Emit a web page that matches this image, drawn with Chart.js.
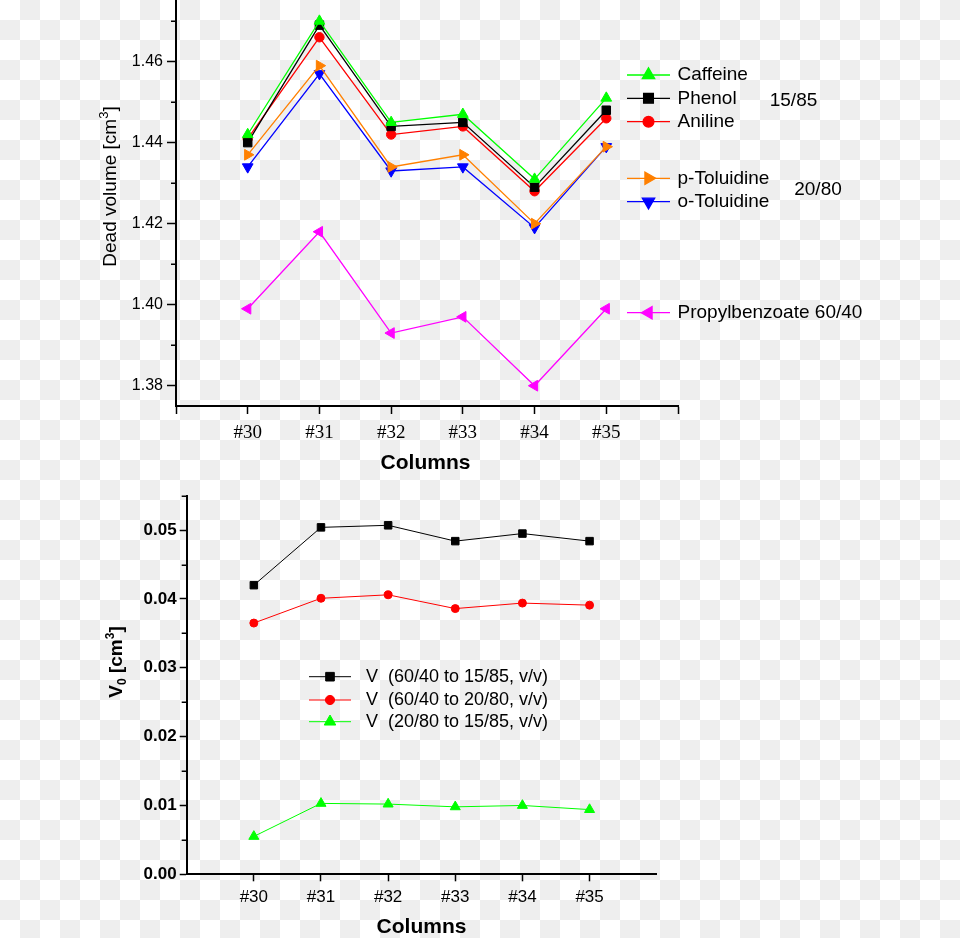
<!DOCTYPE html>
<html>
<head>
<meta charset="utf-8">
<title>Dead volume of columns</title>
<script src="https://cdn.jsdelivr.net/npm/chart.js@4.4.0/dist/chart.umd.min.js"></script>
<style>
  html, body { margin: 0; width: 960px; height: 938px; overflow: hidden; }
  html {
    background-color: #fff;
    background-image: conic-gradient(#eee 25%, #fff 0 50%, #eee 0 75%, #fff 0);
    background-size: 40px 40px;
  }
  body { position: relative; }
  canvas { position: absolute; left: 0; }
  #deadVolume { top: 0; width: 960px; height: 480px; }
  #v0Chart { top: 470px; width: 960px; height: 468px; }
</style>
</head>
<body>
<canvas id="deadVolume" width="960" height="480"></canvas>
<canvas id="v0Chart" width="960" height="468"></canvas>
<script>
// Columns on the x axis
const columnNumbers = [30, 31, 32, 33, 34, 35];
const columnLabels = ["#30", "#31", "#32", "#33", "#34", "#35"];
const columnAxisTicks = [29, 30, 31, 32, 33, 34, 35, 36];

// Dead volume [cm3] per solute
const caffeine = [1.442, 1.470, 1.445, 1.447, 1.431, 1.451];
const phenol = [1.440, 1.469, 1.444, 1.445, 1.429, 1.448];
const aniline = [1.441, 1.466, 1.442, 1.444, 1.428, 1.446];
const pToluidine = [1.437, 1.459, 1.434, 1.437, 1.420, 1.439];
const oToluidine = [1.434, 1.457, 1.433, 1.434, 1.419, 1.439];
const propylbenzoate = [1.399, 1.418, 1.393, 1.397, 1.380, 1.399];
const deadVolumeTicks = [1.38, 1.40, 1.42, 1.44, 1.46];
const deadVolumeMinorTicks = [1.39, 1.41, 1.43, 1.45, 1.47];

// V0 [cm3] between mobile phase compositions
const v6040to1585 = [0.0420, 0.0504, 0.0507, 0.0484, 0.0495, 0.0484];
const v6040to2080 = [0.0365, 0.0401, 0.0406, 0.0386, 0.0394, 0.0391];
const v2080to1585 = [0.0055, 0.0103, 0.0102, 0.0098, 0.0100, 0.0094];
const v0Ticks = [0, 0.01, 0.02, 0.03, 0.04, 0.05];
const v0MinorTicks = [0.005, 0.015, 0.025, 0.035, 0.045, 0.055];

const sans = "'Liberation Sans', Arial, sans-serif";
const serif = "'Liberation Serif', 'Times New Roman', serif";
Chart.defaults.font.family = sans;
Chart.defaults.color = "#000";

function points(values) {
  return values.map((v, i) => ({ x: columnNumbers[i], y: v }));
}

function columnLabel(value) {
  const i = columnNumbers.indexOf(value);
  return i < 0 ? "" : columnLabels[i];
}

function series(label, values, color, style, rotation, radius, width) {
  return {
    label: label,
    data: points(values),
    borderColor: color,
    backgroundColor: color,
    borderWidth: width,
    tension: 0,
    pointStyle: style,
    pointRotation: rotation,
    pointRadius: radius,
    pointHoverRadius: radius,
    pointBorderWidth: 1,
    pointBackgroundColor: color,
    pointBorderColor: color,
    clip: false,
  };
}

// text with sub/superscripts, centred on (x, y) baseline
function drawRich(ctx, parts, x, y, angle) {
  ctx.save();
  ctx.translate(x, y);
  ctx.rotate(angle || 0);
  ctx.textAlign = "left";
  ctx.textBaseline = "alphabetic";
  ctx.fillStyle = "#000";
  let total = 0;
  parts.forEach((p) => {
    ctx.font = p.font;
    total += ctx.measureText(p.text).width;
  });
  let cx = -total / 2;
  parts.forEach((p) => {
    ctx.font = p.font;
    ctx.fillText(p.text, cx, p.dy || 0);
    cx += ctx.measureText(p.text).width;
  });
  ctx.restore();
}

const decor = {
  id: "decor",
  afterDraw(chart, args, opts) {
    const ctx = chart.ctx;
    const y = chart.scales.y;

    // minor ticks on the y axis
    ctx.save();
    ctx.strokeStyle = "#000";
    ctx.lineWidth = 1.5;
    ctx.beginPath();
    opts.minorTicks.forEach((v) => {
      const py = Math.round(y.getPixelForValue(v)) + 0.25;
      ctx.moveTo(y.right - opts.minorLength, py);
      ctx.lineTo(y.right, py);
    });
    ctx.stroke();
    ctx.restore();

    // legend
    const lg = opts.legend;
    chart.data.datasets.forEach((ds, i) => {
      const ry = lg.rows[i];
      ctx.save();
      ctx.strokeStyle = ds.borderColor;
      ctx.fillStyle = ds.borderColor;
      ctx.lineWidth = ds.borderWidth;
      ctx.beginPath();
      ctx.moveTo(lg.lineFrom, ry);
      ctx.lineTo(lg.lineTo, ry);
      ctx.stroke();
      Chart.helpers.drawPoint(ctx, {
        pointStyle: ds.pointStyle,
        rotation: ds.pointRotation,
        radius: ds.pointRadius * lg.markerScale,
        borderWidth: 1,
      }, lg.markerX, ry);
      ctx.fillStyle = "#000";
      ctx.font = lg.font;
      ctx.textAlign = "left";
      ctx.textBaseline = "middle";
      ctx.fillText(ds.label, lg.textX, ry);
      ctx.restore();
    });

    opts.texts.forEach((t) => drawRich(ctx, t.parts, t.x, t.y, t.angle));
  },
};

const axisBorder = { display: true, color: "#000", width: 2 };

function tickGrid(len) {
  return {
    display: true,
    drawOnChartArea: false,
    drawTicks: true,
    tickLength: len,
    tickColor: "#000",
    tickWidth: 1.5,
  };
}

// upper chart: dead volume
new Chart(document.getElementById("deadVolume").getContext("2d"), {
  type: "line",
  data: {
    datasets: [
      series("Caffeine", caffeine, "#00ff00", "triangle", 0, 6.2, 1.3),
      series("Phenol", phenol, "#000000", "rect", 0, 6, 1.3),
      series("Aniline", aniline, "#ff0000", "circle", 0, 4.7, 1.3),
      series("p-Toluidine", pToluidine, "#ff8000", "triangle", 90, 6.2, 1.3),
      series("o-Toluidine", oToluidine, "#0000ff", "triangle", 180, 6.2, 1.3),
      series("Propylbenzoate 60/40", propylbenzoate, "#ff00ff", "triangle", 270, 6.2, 1.3),
    ],
  },
  options: {
    responsive: false,
    animation: false,
    events: [],
    layout: { autoPadding: false, padding: { left: 0, top: 0, right: 282, bottom: 0 } },
    plugins: {
      legend: { display: false },
      tooltip: { enabled: false },
      decor: {
        minorTicks: deadVolumeMinorTicks,
        minorLength: 5,
        legend: {
          rows: [75, 98.3, 121.7, 178.3, 201.7, 312.7],
          lineFrom: 627,
          lineTo: 670,
          markerX: 648.5,
          markerScale: 1.15,
          textX: 677.5,
          font: "19px " + sans,
        },
        texts: [
          { parts: [{ text: "Columns", font: "bold 21px " + sans }], x: 425.5, y: 469.3 },
          {
            parts: [
              { text: "Dead volume [cm", font: "19px " + sans },
              { text: "3", font: "13px " + sans, dy: -8 },
              { text: "]", font: "19px " + sans },
            ],
            x: 116, y: 186.5, angle: -Math.PI / 2,
          },
          { parts: [{ text: "15/85", font: "19px " + sans }], x: 793.5, y: 105.8 },
          { parts: [{ text: "20/80", font: "19px " + sans }], x: 818, y: 194.8 },
        ],
      },
    },
    scales: {
      x: {
        type: "linear",
        min: 29,
        max: 36,
        afterBuildTicks: (s) => { s.ticks = columnAxisTicks.map((v) => ({ value: v })); },
        afterFit: (s) => { s.height = 74; s.paddingLeft = 0; s.paddingRight = 0; },
        grid: tickGrid(8),
        border: axisBorder,
        ticks: {
          font: { family: serif, size: 19 },
          padding: 8,
          maxRotation: 0,
          autoSkip: false,
          callback: columnLabel,
        },
      },
      y: {
        min: 1.375,
        max: 1.4752,
        afterBuildTicks: (s) => { s.ticks = deadVolumeTicks.map((v) => ({ value: v })); },
        afterFit: (s) => { s.width = 176; s.paddingTop = 0; s.paddingBottom = 0; },
        grid: tickGrid(9),
        border: axisBorder,
        ticks: {
          font: { size: 16 },
          padding: 4,
          callback: (v) => v.toFixed(2),
        },
      },
    },
  },
  plugins: [decor],
});

// lower chart: V0
new Chart(document.getElementById("v0Chart").getContext("2d"), {
  type: "line",
  data: {
    datasets: [
      series("V  (60/40 to 15/85, v/v)", v6040to1585, "#000000", "rect", 0, 5.3, 1),
      series("V  (60/40 to 20/80, v/v)", v6040to2080, "#ff0000", "circle", 0, 4, 1),
      series("V  (20/80 to 15/85, v/v)", v2080to1585, "#00ff00", "triangle", 0, 5.8, 1),
    ],
  },
  options: {
    responsive: false,
    animation: false,
    events: [],
    layout: { autoPadding: false, padding: { left: 0, top: 25.7, right: 303.3, bottom: 0 } },
    plugins: {
      legend: { display: false },
      tooltip: { enabled: false },
      decor: {
        minorTicks: v0MinorTicks,
        minorLength: 5,
        legend: {
          rows: [206.7, 230, 251.7],
          lineFrom: 309,
          lineTo: 351,
          markerX: 330,
          markerScale: 1.15,
          textX: 366,
          font: "18px " + sans,
        },
        texts: [
          { parts: [{ text: "Columns", font: "bold 21px " + sans }], x: 421.5, y: 463.3 },
          {
            parts: [
              { text: "V", font: "bold 19px " + sans },
              { text: "0", font: "bold 12px " + sans, dy: 4 },
              { text: " [cm", font: "bold 19px " + sans },
              { text: "3", font: "bold 12px " + sans, dy: -8 },
              { text: "]", font: "bold 19px " + sans },
            ],
            x: 121.7, y: 192, angle: -Math.PI / 2,
          },
        ],
      },
    },
    scales: {
      x: {
        type: "linear",
        min: 29,
        max: 36,
        afterBuildTicks: (s) => { s.ticks = columnNumbers.map((v) => ({ value: v })); },
        afterFit: (s) => { s.height = 63.7; s.paddingLeft = 0; s.paddingRight = 0; },
        grid: tickGrid(7),
        border: axisBorder,
        ticks: {
          font: { size: 17 },
          padding: 6,
          maxRotation: 0,
          autoSkip: false,
          callback: columnLabel,
        },
      },
      y: {
        min: 0,
        max: 0.055,
        afterBuildTicks: (s) => { s.ticks = v0Ticks.map((v) => ({ value: v })); },
        afterFit: (s) => { s.width = 186.7; s.paddingTop = 0; s.paddingBottom = 0; },
        grid: tickGrid(7),
        border: axisBorder,
        ticks: {
          font: { size: 17, weight: "bold" },
          padding: 3,
          callback: (v) => v.toFixed(2),
        },
      },
    },
  },
  plugins: [decor],
});
</script>
</body>
</html>
